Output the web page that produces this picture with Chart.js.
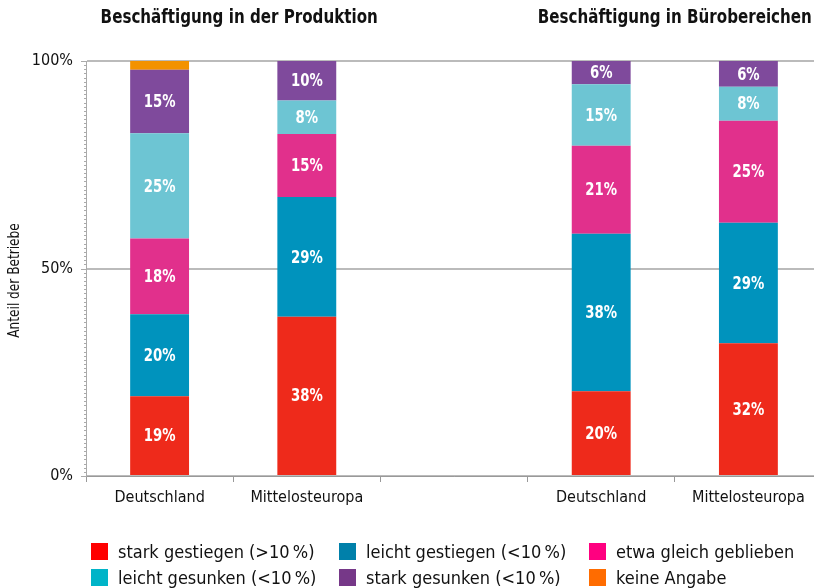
<!DOCTYPE html>
<html>
<head>
<meta charset="utf-8">
<script src="https://cdn.jsdelivr.net/npm/chart.js@4.4.1/dist/chart.umd.min.js"></script>
<style>
  html, body { margin:0; padding:0; overflow:hidden; background:#fff; width:814px; height:588px; }
  #wrap { position:absolute; left:0; top:0; width:822px; height:588px; }
  #legend { position:absolute; left:0; top:0; width:814px; height:588px; pointer-events:none;
    font-family:"DejaVu Sans Condensed","DejaVu Sans",sans-serif; font-stretch:condensed; font-size:18px; color:#111; }
  .item { position:absolute; display:flex; align-items:center; white-space:nowrap; }
  .sw { width:17px; height:17px; margin-right:10px; flex:none; }
</style>
</head>
<body>
<div id="wrap"><canvas id="c"></canvas></div>
<div id="legend"></div>
<script>
const categories = ["Deutschland", "Mittelosteuropa", "", "Deutschland", "Mittelosteuropa"];
const groupTitles = ["Beschäftigung in der Produktion", "Beschäftigung in Bürobereichen"];
const yAxisTitle = "Anteil der Betriebe";
const seriesNames = ["stark gestiegen (>10\u202F%)", "leicht gestiegen (<10\u202F%)", "etwa gleich geblieben",
                     "leicht gesunken (<10\u202F%)", "stark gesunken (<10\u202F%)", "keine Angabe"];
const starkGestiegen  = [19.2, 38.4, null, 20.4, 32.0];
const leichtGestiegen = [19.8, 28.8, null, 38.0, 29.0];
const etwaGleich      = [18.2, 15.2, null, 21.2, 24.6];
const leichtGesunken  = [25.4, 8.1, null, 14.8, 8.2];
const starkGesunken   = [15.3, 9.5, null, 5.6, 6.2];
const keineAngabe     = [2.1, 0, null, 0, 0];
const yTickLabels = [0, 50, 100];

const barColors = ["#ee2a1b", "#0093bd", "#e1308c", "#6dc5d3", "#7f4a9c", "#f39200"];
const legendColors = ["#ff0000", "#0080aa", "#ff0080", "#00b4c8", "#763888", "#ff6c00"];
const seriesData = [starkGestiegen, leichtGestiegen, etwaGleich, leichtGesunken, starkGesunken, keineAngabe];
const FONT = '"DejaVu Sans Condensed","DejaVu Sans",sans-serif';

const datasets = seriesData.map((d, i) => ({
  label: seriesNames[i], data: d, backgroundColor: barColors[i],
  borderWidth: 0, categoryPercentage: 1, barPercentage: 0.4, showLabel: i < 5
}));

function narrowText(ctx, text, x, y, sx) {
  ctx.save();
  ctx.translate(x, y);
  ctx.scale(sx, 1);
  ctx.fillText(text, 0, 0);
  ctx.restore();
}

const labelPlugin = {
  id: 'labels',
  afterDatasetsDraw(chart) {
    const ctx = chart.ctx;
    ctx.save();
    ctx.font = 'bold 18px ' + FONT;
    ctx.fillStyle = '#fff';
    ctx.textAlign = 'center';
    ctx.textBaseline = 'middle';
    chart.data.datasets.forEach((ds, di) => {
      if (!ds.showLabel) return;
      chart.getDatasetMeta(di).data.forEach((bar, j) => {
        const v = ds.data[j];
        if (v == null || v <= 0) return;
        narrowText(ctx, Math.round(v) + '%', bar.x, (bar.y + bar.base) / 2 + 1, 0.82);
      });
    });
    ctx.restore();
  }
};

const titlePlugin = {
  id: 'titles',
  afterDraw(chart) {
    const ctx = chart.ctx, x = chart.scales.x, y = chart.scales.y;
    ctx.save();
    ctx.font = 'bold 20px ' + FONT;
    ctx.fillStyle = '#111';
    ctx.textAlign = 'center';
    ctx.textBaseline = 'middle';
    const c1 = (x.getPixelForValue(0) + x.getPixelForValue(1)) / 2;
    const c2 = (x.getPixelForValue(3) + x.getPixelForValue(4)) / 2;
    narrowText(ctx, groupTitles[0], c1 + 6, 18, 0.84);
    narrowText(ctx, groupTitles[1], c2, 18, 0.84);
    // y axis title
    ctx.font = '15px ' + FONT;
    ctx.save();
    ctx.translate(15, (y.top + y.bottom) / 2 + 12);
    ctx.rotate(-Math.PI / 2);
    ctx.scale(0.9, 1);
    ctx.fillText(yAxisTitle, 0, 0);
    ctx.restore();
    // minor ticks along y axis
    ctx.strokeStyle = '#aaa';
    ctx.lineWidth = 1;
    for (let v = 0; v <= 100; v += 1) {
      const py = Math.round(y.getPixelForValue(v)) + 0.5;
      const len = (v % 50 === 0) ? 5 : 2;
      ctx.beginPath();
      ctx.moveTo(y.right - len, py);
      ctx.lineTo(y.right, py);
      ctx.stroke();
    }
    ctx.restore();
  }
};

new Chart(document.getElementById('c'), {
  type: 'bar',
  data: { labels: categories, datasets },
  options: {
    responsive: true, maintainAspectRatio: false, animation: false,
    layout: { padding: { top: 61, right: 0, left: 0, bottom: 0 } },
    plugins: { legend: { display: false }, tooltip: { enabled: false } },
    scales: {
      x: {
        stacked: true,
        grid: { display: true, drawOnChartArea: false, offset: true, tickLength: 6, color: '#999', tickColor: '#999' },
        border: { color: '#999', width: 1 },
        ticks: { color: '#111', font: { family: FONT, size: 16 }, padding: 6, maxRotation: 0 },
        afterFit(s) { s.height = 112; }
      },
      y: {
        stacked: true, min: 0, max: 100,
        afterBuildTicks(s) { s.ticks = yTickLabels.map(v => ({ value: v })); },
        afterFit(s) { s.width = 86; },
        grid: { color: '#bbb', lineWidth: 2, drawTicks: false },
        border: { color: '#aaa', width: 1 },
        ticks: { color: '#111', font: { family: FONT, size: 16 }, padding: 13, callback: v => v + '%' },
        title: { display: false }
      }
    }
  },
  plugins: [labelPlugin, titlePlugin]
});

// legend (3 columns x 2 rows)
const legendPos = [[91, 551], [339, 551], [589, 551], [91, 577], [339, 577], [589, 577]];
const lg = document.getElementById('legend');
seriesNames.forEach((n, i) => {
  const it = document.createElement('div');
  it.className = 'item';
  it.style.left = legendPos[i][0] + 'px';
  it.style.top = (legendPos[i][1] - 11) + 'px';
  it.style.height = '22px';
  const sw = document.createElement('span');
  sw.className = 'sw';
  sw.style.background = legendColors[i];
  const t = document.createElement('span');
  t.textContent = n;
  it.appendChild(sw); it.appendChild(t);
  lg.appendChild(it);
});
</script>
</body>
</html>
